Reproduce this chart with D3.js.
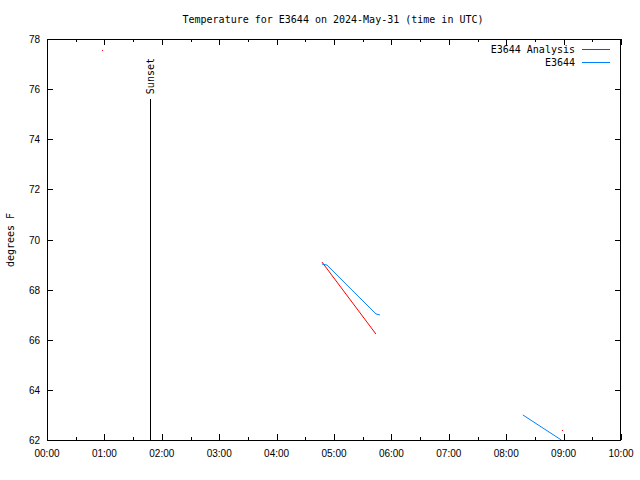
<!DOCTYPE html>
<html><head><meta charset="utf-8">
<script src="https://cdn.jsdelivr.net/npm/d3@7"></script>
<style>body{margin:0;background:#fff}</style>
</head><body>
<svg id="c" width="640" height="480"></svg>
<script>
const title = "Temperature for E3644 on 2024-May-31 (time in UTC)";
const yLabel = "degrees F";
const xTickLabels = ["00:00","01:00","02:00","03:00","04:00","05:00","06:00","07:00","08:00","09:00","10:00"];
const yTicks = [62,64,66,68,70,72,74,76,78];
// times in hours UTC
const analysisSegTimes = [4.79, 5.73];
const analysisSegValues = [69.1, 66.23];
const analysisDotTimes = [0.958, 8.97];
const analysisDotValues = [77.56, 62.39];
const obs1Times = [4.79, 4.878, 5.296, 5.732, 5.80];
const obs1Values = [69.02, 68.98, 68.02, 67.03, 66.99];
const obs2Times = [8.29, 8.96];
const obs2Values = [63.0, 62.0];
const sunsetTime = 1.794;
const sunsetTop = 75.6;

const svg = d3.select("#c");
const L=47, R=621, T=39, B=440;
const x = d3.scaleLinear().domain([0,10]).range([L,R]);
const y = d3.scaleLinear().domain([62,78]).range([B,T]);
const mono = "'DejaVu Sans Mono', monospace";
const sans = "'Liberation Sans', Arial, sans-serif";

const clip = svg.append("clipPath").attr("id","pc").append("rect")
  .attr("x",L).attr("y",T).attr("width",R-L).attr("height",B-T);

// ticks
const g = svg.append("g").attr("stroke","#000").attr("stroke-width",1).attr("shape-rendering","crispEdges");
for (let h=0; h<=10; h+=0.5) {
  const len = (h%1===0)?6:3;
  const px = Math.round(x(h))+0.5;
  g.append("line").attr("x1",px).attr("x2",px).attr("y1",B).attr("y2",B-len);
  g.append("line").attr("x1",px).attr("x2",px).attr("y1",T).attr("y2",T+len);
}
yTicks.forEach(v=>{
  const py = Math.round(y(v))+0.5;
  g.append("line").attr("x1",L).attr("x2",L+6).attr("y1",py).attr("y2",py);
  g.append("line").attr("x1",R).attr("x2",R-6).attr("y1",py).attr("y2",py);
});

// tick labels
xTickLabels.forEach((t,i)=>{
  svg.append("text").attr("x",x(i)).attr("y",457).attr("text-anchor","middle")
    .attr("font-family",sans).attr("font-size",10).text(t);
});
yTicks.forEach(v=>{
  svg.append("text").attr("x",40).attr("y",y(v)+4).attr("text-anchor","end")
    .attr("font-family",sans).attr("font-size",10).text(v);
});

// title
svg.append("text").attr("x",333).attr("y",23).attr("text-anchor","middle")
  .attr("font-family",mono).attr("font-size",10).text(title);
// y label
svg.append("text").attr("transform","translate(14,240) rotate(-90)").attr("text-anchor","middle")
  .attr("font-family",mono).attr("font-size",10).text(yLabel);

const plot = svg.append("g").attr("clip-path","url(#pc)");
// sunset
plot.append("line").attr("x1",Math.round(x(sunsetTime))+0.5).attr("x2",Math.round(x(sunsetTime))+0.5)
  .attr("y1",B).attr("y2",y(sunsetTop)).attr("stroke","#000").attr("shape-rendering","crispEdges");
svg.append("text").attr("transform",`translate(${x(sunsetTime)+4},${y(sunsetTop)-5}) rotate(-90)`)
  .attr("font-family",mono).attr("font-size",10).text("Sunset");

const line = d3.line().x(d=>x(d[0])).y(d=>y(d[1]));
plot.append("path").attr("d",line(analysisSegTimes.map((t,i)=>[t,analysisSegValues[i]])))
  .attr("fill","none").attr("stroke","#ff0000").attr("stroke-width",1);
analysisDotTimes.forEach((t,i)=>{
  plot.append("rect").attr("x",Math.round(x(t))).attr("y",Math.round(y(analysisDotValues[i])))
    .attr("width",1).attr("height",1).attr("fill","#ff0000");
});
plot.append("path").attr("d",line(obs1Times.map((t,i)=>[t,obs1Values[i]])))
  .attr("fill","none").attr("stroke","#0080ff").attr("stroke-width",1);
plot.append("path").attr("d",line(obs2Times.map((t,i)=>[t,obs2Values[i]])))
  .attr("fill","none").attr("stroke","#0080ff").attr("stroke-width",1);

// border
svg.append("rect").attr("x",L+0.5).attr("y",T+0.5).attr("width",R-L-1).attr("height",B-T)
  .attr("fill","none").attr("stroke","#000").attr("shape-rendering","crispEdges");

// legend
const leg = [["E3644 Analysis","#ff0000",49],["E3644","#0080ff",62]];
leg.forEach(([name,col,ly])=>{
  svg.append("text").attr("x",575).attr("y",ly+4).attr("text-anchor","end")
    .attr("font-family",mono).attr("font-size",10).text(name);
  svg.append("line").attr("x1",582).attr("x2",610).attr("y1",ly+0.5).attr("y2",ly+0.5)
    .attr("stroke",col).attr("shape-rendering","crispEdges");
});
</script>
</body></html>
